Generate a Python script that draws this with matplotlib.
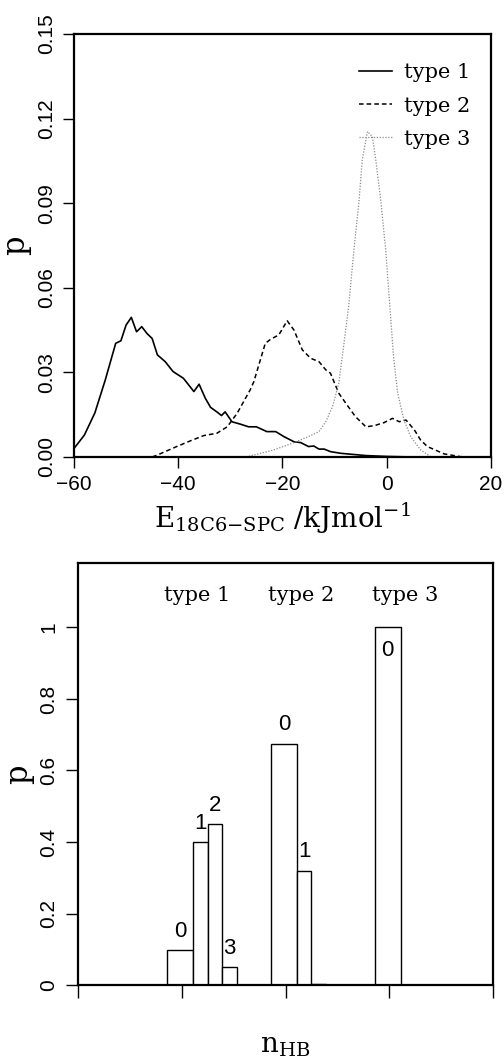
import matplotlib
matplotlib.use('Agg')
import matplotlib.pyplot as plt
from matplotlib.ticker import FormatStrFormatter

plt.rcParams['font.family'] = ['Liberation Sans', 'DejaVu Sans']
plt.rcParams['mathtext.fontset'] = 'dejavuserif'

# top panel: distribution of 18C6-SPC interaction energy
e1 = [-60, -58, -56, -54, -52, -51, -50, -49, -48, -47, -46, -45, -44, -42.5, -41, -39, -37, -36,
      -34.8, -33.8, -32.6, -31.7, -31, -29.7, -28, -26.5, -25, -23, -21.3, -19.7, -17.8, -16.5,
      -15, -14, -13, -12, -10.8, -8.8, -7, -4, 0, 5]
p1 = [0.003, 0.0078, 0.0156, 0.0273, 0.0403, 0.0412, 0.0468, 0.0495, 0.0444, 0.0462, 0.0438, 0.042,
      0.0362, 0.0338, 0.0303, 0.0279, 0.0232, 0.0258, 0.0208, 0.0176, 0.016, 0.0147, 0.016, 0.0125,
      0.0116, 0.0107, 0.0107, 0.009, 0.009, 0.0072, 0.0054, 0.0051, 0.0037, 0.0039, 0.0028, 0.0028,
      0.0019, 0.0013, 0.001, 0.0005, 0.0002, 0.0]

e2 = [-45, -44, -40.3, -37.7, -35.1, -32.6, -30.6, -28.7, -26.2, -25.5, -23.3, -22.3, -20.7, -19.1,
      -17.8, -16.2, -14.6, -13, -11.7, -10.8, -9.2, -7.6, -6, -4, -2.4, -0.5, 1.1, 2.4, 3.7, 5.3,
      6.5, 7.8, 11, 14.2, 16]
p2 = [0.0, 0.0007, 0.0037, 0.0057, 0.0076, 0.0084, 0.0107, 0.0155, 0.0238, 0.0267, 0.0403, 0.0417,
      0.0433, 0.0483, 0.045, 0.038, 0.035, 0.0338, 0.0309, 0.0297, 0.0226, 0.0184, 0.0143, 0.0107,
      0.0111, 0.0122, 0.0137, 0.0125, 0.0131, 0.0096, 0.006, 0.0037, 0.0011, 0.0001, 0.0]

e3 = [-27, -25.5, -21.7, -18.5, -15.3, -13, -11.7, -10.4, -9.2, -8.2, -7.3, -6.3, -5.3, -4.7, -3.7,
      -2.75, -2.1, -1.15, -0.2, 0.6, 1.3, 2.1, 3.3, 4.6, 6.5, 8.5]
p3 = [0.0, 0.0007, 0.0025, 0.0046, 0.007, 0.009, 0.0125, 0.0178, 0.0261, 0.0403, 0.0536, 0.0734,
      0.0911, 0.1053, 0.1154, 0.1136, 0.1053, 0.0911, 0.0734, 0.0533, 0.0356, 0.0226, 0.0131,
      0.0072, 0.0025, 0.0]

# bottom panel: probability of n_HB hydrogen bonds per water type
type_names = ['type 1', 'type 2', 'type 3']
p_hb = [[0.097, 0.40, 0.45, 0.05], [0.675, 0.32, 0.004], [1.0]]
hb_labels = [['0', '1', '2', '3'], ['0', '1', ''], ['0']]

serif = ['DejaVu Serif']

fig = plt.figure(figsize=(5.04, 10.64), dpi=100)

ax = fig.add_axes([0.1468, 0.5705, 0.8274, 0.3976])
ax.plot(e1, p1, color='black', lw=1.2, label='type 1')
ax.plot(e2, p2, color='black', lw=1.1, ls=(0, (3, 2)), label='type 2')
ax.plot(e3, p3, color='#8a8a8a', lw=0.9, ls=(0, (1, 1.3)), label='type 3')
ax.set_xlim(-60, 20)
ax.set_ylim(0, 0.15)
ax.set_xticks([-60, -40, -20, 0, 20])
ax.set_yticks([0, 0.03, 0.06, 0.09, 0.12, 0.15])
ax.yaxis.set_major_formatter(FormatStrFormatter('%.2f'))
ax.tick_params(direction='out', length=8, width=1, labelsize=15, pad=5)
for t in ax.get_yticklabels():
    t.set_rotation(90)
    t.set_va('center')
ax.set_ylabel('p', family=serif, fontsize=22, labelpad=4)
ax.set_xlabel(r'E$_{\mathrm{18C6{-}SPC}}\ $/kJmol$^{-1}$', family=serif, fontsize=20, labelpad=5)
for s in ax.spines.values():
    s.set_linewidth(1.6)
leg = ax.legend(loc='upper right', bbox_to_anchor=(0.975, 0.955), frameon=False,
                prop={'family': serif, 'size': 15}, handlelength=1.6,
                handletextpad=0.55, labelspacing=0.68, borderpad=0)

ax2 = fig.add_axes([0.1548, 0.0742, 0.8234, 0.3966])
widths = [0.25, 0.14, 0.14, 0.14]
for k, vals in enumerate(p_hb):
    left = k + 1 - 0.14
    for j, v in enumerate(vals):
        ax2.bar(left, v, width=widths[j], align='edge', color='white',
                edgecolor='black', linewidth=1.0)
        lab = hb_labels[k][j]
        if lab:
            xc = left + widths[j] / 2
            if v > 0.9:
                ax2.annotate(lab, (xc, v), xytext=(0, -9), textcoords='offset points',
                             ha='center', va='top', fontsize=16)
            else:
                ax2.annotate(lab, (xc, v), xytext=(0, 6), textcoords='offset points',
                             ha='center', va='bottom', fontsize=16)
        left += widths[j]
    ax2.text(k + 1.15, 1.09, type_names[k], ha='center', va='center',
             family=serif, fontsize=15)
ax2.set_xlim(0, 4)
ax2.set_ylim(0, 1.18)
ax2.set_xticks([0, 1, 2, 3, 4])
ax2.set_xticklabels([])
ax2.set_yticks([0, 0.2, 0.4, 0.6, 0.8, 1.0])
ax2.set_yticklabels(['0', '0.2', '0.4', '0.6', '0.8', '1'])
ax2.tick_params(direction='out', length=9, width=1, labelsize=15, pad=5)
for t in ax2.get_yticklabels():
    t.set_rotation(90)
    t.set_va('center')
ax2.set_ylabel('p', family=serif, fontsize=22, labelpad=4)
ax2.set_xlabel(r'n$_{\mathrm{HB}}$', family=serif, fontsize=20, labelpad=20)
for s in ax2.spines.values():
    s.set_linewidth(1.6)

fig.savefig('out.png', dpi=100)
